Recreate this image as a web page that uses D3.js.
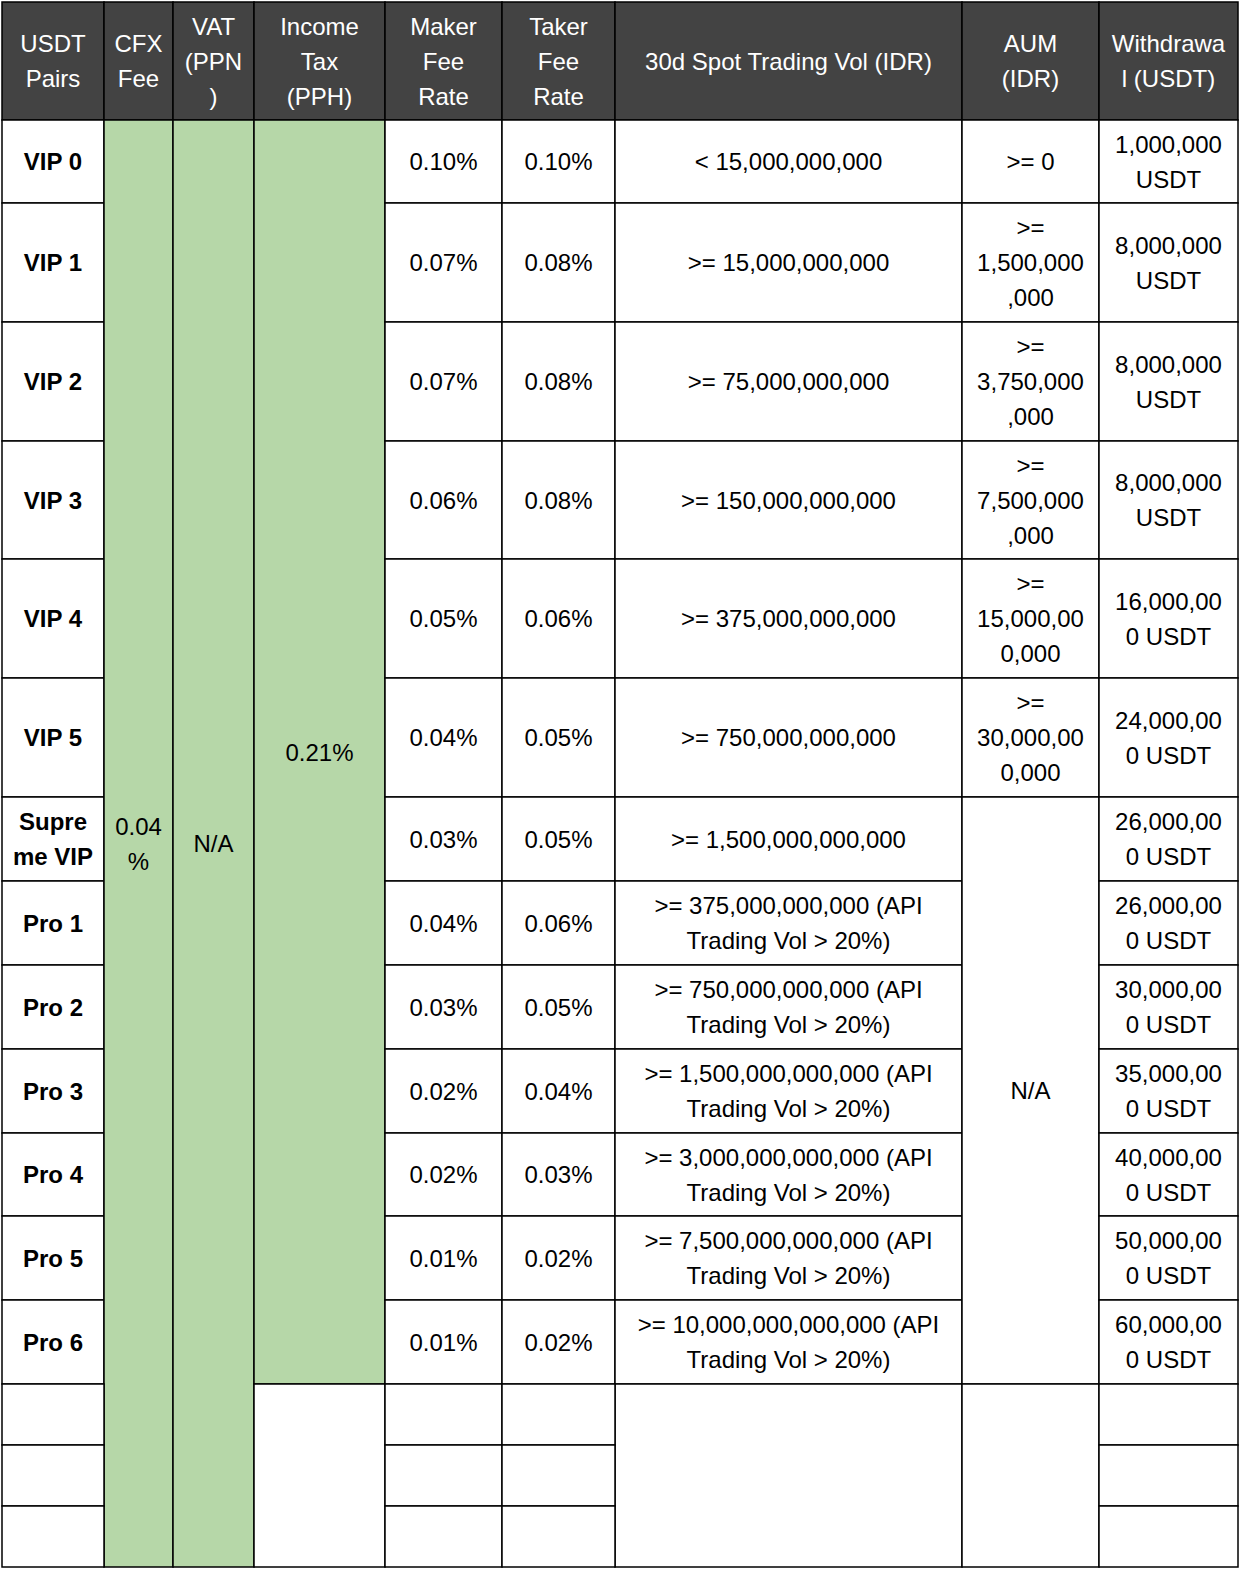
<!DOCTYPE html>
<html><head><meta charset="utf-8">
<script src="https://cdn.jsdelivr.net/npm/d3@7"></script>
<style>body{margin:0;background:#fff}</style>
</head><body><div id="container"></div>
<script>
const headers = ["USDT\nPairs","CFX\nFee","VAT\n(PPN\n)","Income\nTax\n(PPH)","Maker\nFee\nRate","Taker\nFee\nRate","30d Spot Trading Vol (IDR)","AUM\n(IDR)","Withdrawa\nl (USDT)"];
const tiers = ["VIP 0","VIP 1","VIP 2","VIP 3","VIP 4","VIP 5","Supre\nme VIP","Pro 1","Pro 2","Pro 3","Pro 4","Pro 5","Pro 6"];
const cfxFee = "0.04\n%";
const vat = "N/A";
const incomeTax = "0.21%";
const maker = ["0.10%","0.07%","0.07%","0.06%","0.05%","0.04%","0.03%","0.04%","0.03%","0.02%","0.02%","0.01%","0.01%"];
const taker = ["0.10%","0.08%","0.08%","0.08%","0.06%","0.05%","0.05%","0.06%","0.05%","0.04%","0.03%","0.02%","0.02%"];
const vol = ["< 15,000,000,000",">= 15,000,000,000",">= 75,000,000,000",">= 150,000,000,000",">= 375,000,000,000",">= 750,000,000,000",">= 1,500,000,000,000",
  ">= 375,000,000,000 (API\nTrading Vol > 20%)",">= 750,000,000,000 (API\nTrading Vol > 20%)",">= 1,500,000,000,000 (API\nTrading Vol > 20%)",
  ">= 3,000,000,000,000 (API\nTrading Vol > 20%)",">= 7,500,000,000,000 (API\nTrading Vol > 20%)",">= 10,000,000,000,000 (API\nTrading Vol > 20%)"];
const aum = [">= 0",">=\n1,500,000\n,000",">=\n3,750,000\n,000",">=\n7,500,000\n,000",">=\n15,000,00\n0,000",">=\n30,000,00\n0,000"];
const aumRest = "N/A";
const withdraw = ["1,000,000\nUSDT","8,000,000\nUSDT","8,000,000\nUSDT","8,000,000\nUSDT","16,000,00\n0 USDT","24,000,00\n0 USDT","26,000,00\n0 USDT","26,000,00\n0 USDT","30,000,00\n0 USDT","35,000,00\n0 USDT","40,000,00\n0 USDT","50,000,00\n0 USDT","60,000,00\n0 USDT"];

// layout
const colEdges = [2,104,173,254,385,502,615,962,1099,1238];
const rowEdges = [2,120,203,322,441,559,678,797,881,965,1049,1133,1216,1300,1384,1445,1506,1567];
const GREEN = "#b6d7a8", HEAD = "#434343";
const x = i => colEdges[i], y = i => rowEdges[i];

const cells = [];
const add = (r0,r1,c0,c1,text,opt={}) => cells.push({r0,r1,c0,c1,text,...opt});
headers.forEach((h,c)=>add(0,1,c,c+1,h,{fill:HEAD,color:"#fff"}));
tiers.forEach((t,i)=>add(i+1,i+2,0,1,t,{bold:true}));
add(1,17,1,2,cfxFee,{fill:GREEN});
add(1,17,2,3,vat,{fill:GREEN});
add(1,14,3,4,incomeTax,{fill:GREEN});
add(14,17,3,4,"");
maker.forEach((v,i)=>add(i+1,i+2,4,5,v));
taker.forEach((v,i)=>add(i+1,i+2,5,6,v));
vol.forEach((v,i)=>add(i+1,i+2,6,7,v));
add(14,17,6,7,"");
aum.forEach((v,i)=>add(i+1,i+2,7,8,v));
add(7,14,7,8,aumRest);
add(14,17,7,8,"");
withdraw.forEach((v,i)=>add(i+1,i+2,8,9,v));
[14,15,16].forEach(r=>{[0,4,5,8].forEach(c=>add(r,r+1,c,c+1,""));});

const svg = d3.select('#container').append('svg').attr('width',1250).attr('height',1582)
  .style('font-family','"Liberation Sans", Arial, sans-serif');

const g = svg.selectAll('g.cell').data(cells).enter().append('g').attr('class','cell');
g.append('rect')
  .attr('x',d=>x(d.c0)).attr('y',d=>y(d.r0))
  .attr('width',d=>x(d.c1)-x(d.c0)).attr('height',d=>y(d.r1)-y(d.r0))
  .attr('fill',d=>d.fill||"#fff").attr('stroke','#000').attr('stroke-width',1.5);
const LH = 35;
g.each(function(d){
  const lines = d.text ? d.text.split("\n") : [];
  const cx = (x(d.c0)+x(d.c1))/2, cy = (y(d.r0)+y(d.r1))/2;
  d3.select(this).selectAll('text').data(lines).enter().append('text')
    .attr('x',cx).attr('y',(l,i)=>cy+(i-(lines.length-1)/2)*LH)
    .attr('text-anchor','middle').attr('dominant-baseline','central')
    .attr('font-size',24).attr('font-weight',d.bold?'bold':'normal')
    .attr('fill',d.color||'#000').text(l=>l);
});
</script></body></html>
